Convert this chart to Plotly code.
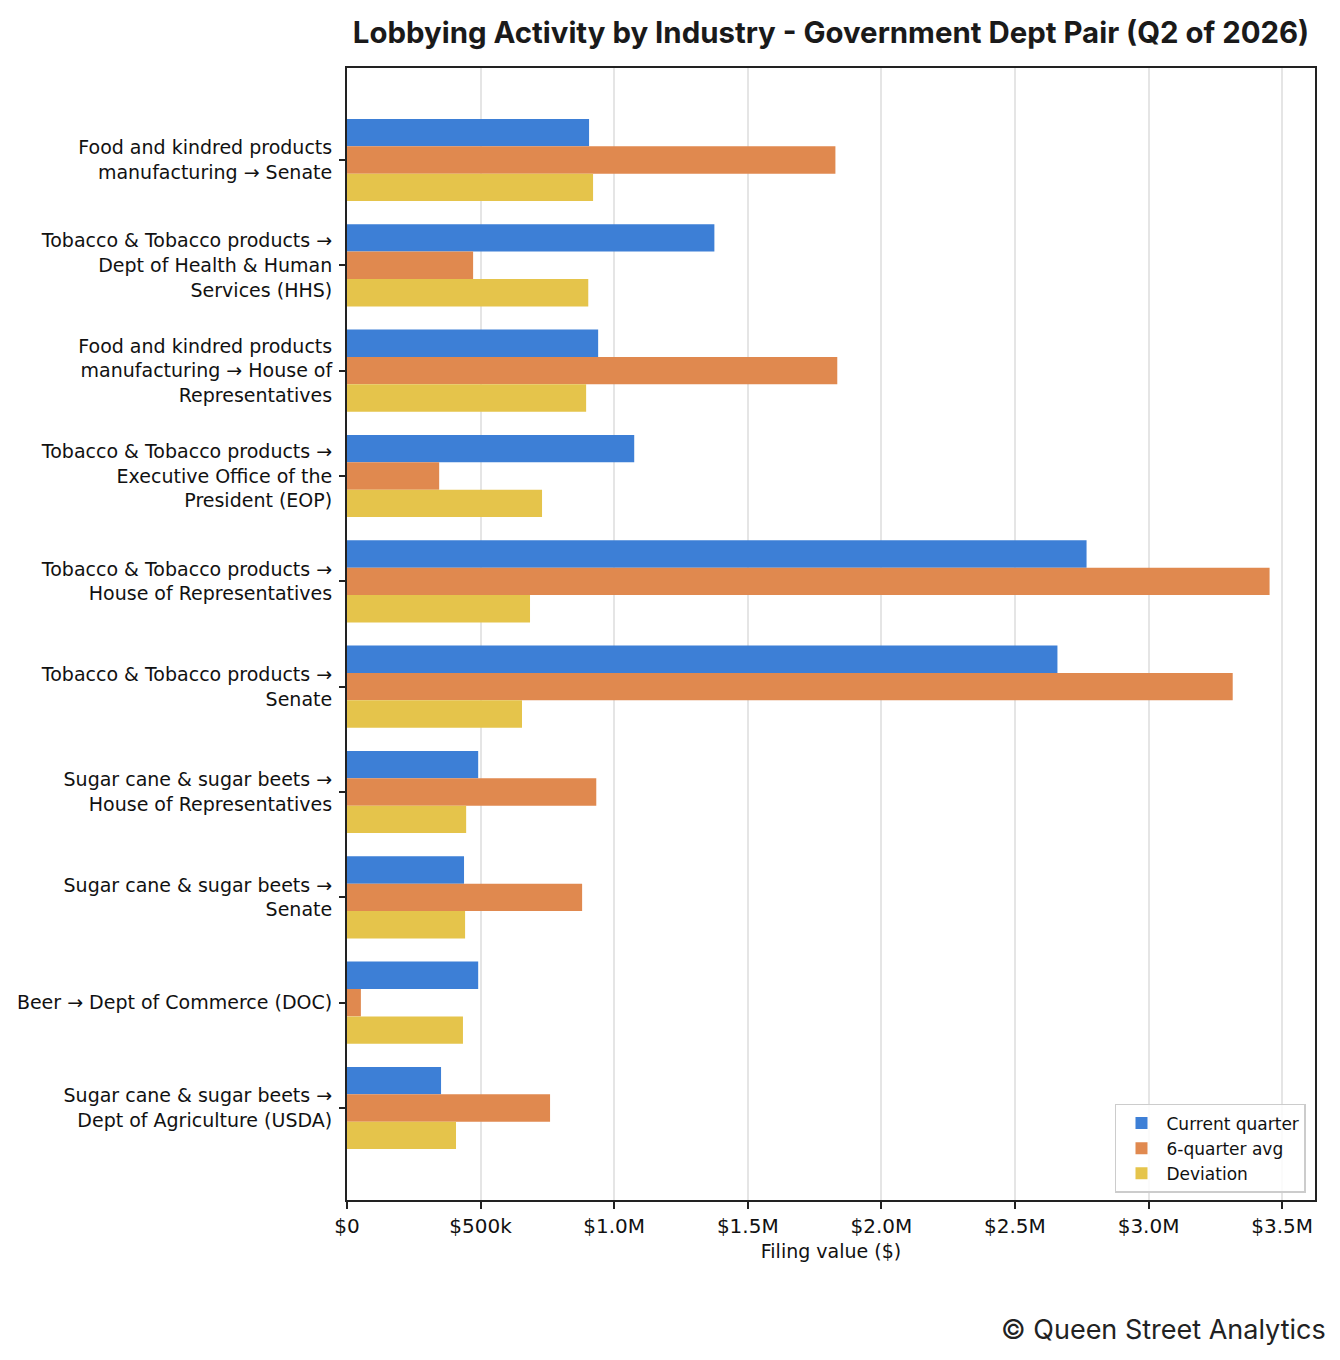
import plotly.graph_objects as go

# industry -> government dept pairs, top to bottom
pairs = [
    "Food and kindred products<br>manufacturing → Senate",
    "Tobacco & Tobacco products →<br>Dept of Health & Human<br>Services (HHS)",
    "Food and kindred products<br>manufacturing → House of<br>Representatives",
    "Tobacco & Tobacco products →<br>Executive Office of the<br>President (EOP)",
    "Tobacco & Tobacco products →<br>House of Representatives",
    "Tobacco & Tobacco products →<br>Senate",
    "Sugar cane & sugar beets →<br>House of Representatives",
    "Sugar cane & sugar beets →<br>Senate",
    "Beer → Dept of Commerce (DOC)",
    "Sugar cane & sugar beets →<br>Dept of Agriculture (USDA)",
]

current_quarter = [906000, 1375000, 940000, 1075000, 2768000, 2659000, 491000, 438000, 491000, 352000]
six_quarter_avg = [1828000, 472000, 1835000, 345000, 3453000, 3315000, 933000, 880000, 52000, 760000]
deviation = [921000, 903000, 895000, 730000, 685000, 655000, 446000, 442000, 434000, 408000]

tick_vals = [0, 500000, 1000000, 1500000, 2000000, 2500000, 3000000, 3500000]
tick_text = ["$0", "$500k", "$1.0M", "$1.5M", "$2.0M", "$2.5M", "$3.0M", "$3.5M"]

series = [
    ("Current quarter", current_quarter, "#3D7FD6"),
    ("6-quarter avg", six_quarter_avg, "#E0894F"),
    ("Deviation", deviation, "#E5C44B"),
]

fig = go.Figure()
for name, vals, color in series:
    fig.add_trace(go.Bar(
        y=pairs, x=vals, name=name, orientation="h",
        marker=dict(color=color, line=dict(width=0)),
    ))

axis_font = dict(family="DejaVu Sans", size=19, color="#111")

# page body adds 8px, so margins are offset to land the plot box where it should be
fig.update_layout(
    width=1340, height=1360,
    margin=dict(l=339, r=33, t=60, b=168),
    paper_bgcolor="white", plot_bgcolor="white",
    barmode="group", bargap=0.22, bargroupgap=0,
    title=dict(
        text="<b>Lobbying Activity by Industry - Government Dept Pair (Q2 of 2026)</b>",
        x=0.5, xref="paper", xanchor="center",
        y=1 - 25 / 1360, yanchor="middle",
        font=dict(family="Inter", size=29.4, color="#1a1a1a"),
        automargin=False,
    ),
    xaxis=dict(
        range=[0, 3623000], tickvals=tick_vals, ticktext=tick_text,
        tickfont=dict(family="DejaVu Sans", size=20, color="#111"),
        title=dict(text="Filing value ($)", font=axis_font, standoff=8),
        showgrid=True, gridcolor="rgba(0,0,0,0.1)", gridwidth=1.5,
        showline=True, linecolor="#222", linewidth=2, mirror=True,
        ticks="outside", ticklen=7, tickwidth=1.5, tickcolor="#222",
        zeroline=False, layer="above traces", automargin=False,
    ),
    yaxis=dict(
        range=[9.873, -0.873], tickfont=axis_font,
        showgrid=False,
        showline=True, linecolor="#222", linewidth=2, mirror=True,
        ticks="outside", ticklen=6, tickwidth=1.5, tickcolor="#222",
        ticklabelstandoff=3, zeroline=False, automargin=False,
    ),
    legend=dict(
        x=0.9907, xanchor="right", y=0.0062, yanchor="bottom",
        bgcolor="rgba(255,255,255,0.85)", bordercolor="#cccccc", borderwidth=1.5,
        font=dict(family="DejaVu Sans", size=17, color="#111"),
        itemwidth=40,
    ),
)

fig.add_annotation(
    text="© Queen Street Analytics", xref="paper", yref="paper",
    x=(1328 - 347) / 968, y=(1200 - 1329) / 1132,
    xanchor="right", yanchor="middle", showarrow=False,
    font=dict(family="Inter", size=27, color="#222"),
)

fig.write_html("out.html")
